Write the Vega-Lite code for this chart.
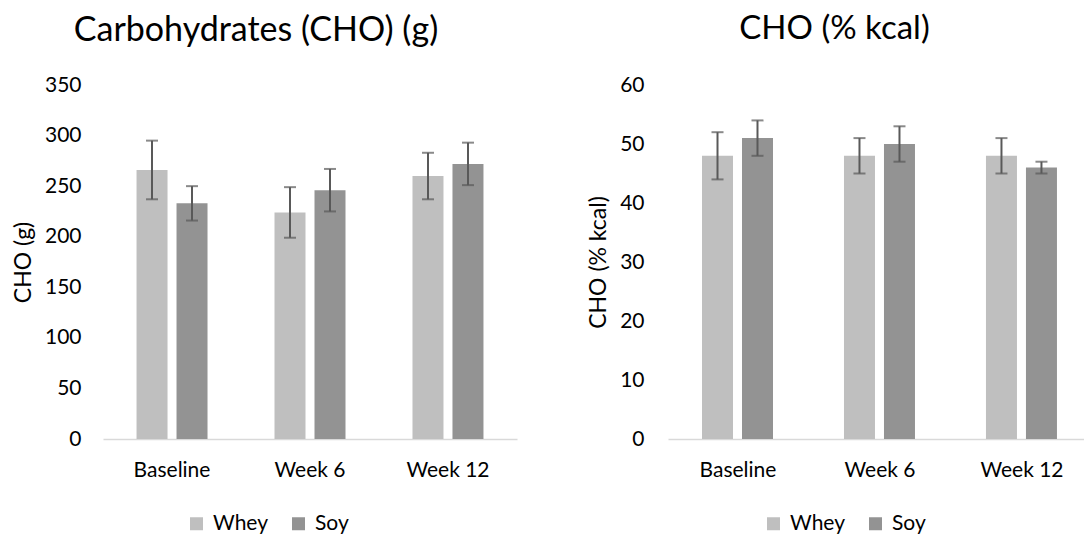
{
  "$schema": "https://vega.github.io/schema/vega-lite/v6.json",
  "background": "white",
  "padding": {"left": 12, "top": 13, "right": 0, "bottom": 0},
  "spacing": 70,
  "datasets": {
    "g": [
      {"time": "Baseline", "group": "Whey", "mean": 266, "lo": 237, "hi": 295},
      {"time": "Baseline", "group": "Soy", "mean": 233, "lo": 216, "hi": 250},
      {"time": "Week 6", "group": "Whey", "mean": 224, "lo": 199, "hi": 249},
      {"time": "Week 6", "group": "Soy", "mean": 246, "lo": 225, "hi": 267},
      {"time": "Week 12", "group": "Whey", "mean": 260, "lo": 237, "hi": 283},
      {"time": "Week 12", "group": "Soy", "mean": 272, "lo": 251, "hi": 293}
    ],
    "pct": [
      {"time": "Baseline", "group": "Whey", "mean": 48, "lo": 44, "hi": 52},
      {"time": "Baseline", "group": "Soy", "mean": 51, "lo": 48, "hi": 54},
      {"time": "Week 6", "group": "Whey", "mean": 48, "lo": 45, "hi": 51},
      {"time": "Week 6", "group": "Soy", "mean": 50, "lo": 47, "hi": 53},
      {"time": "Week 12", "group": "Whey", "mean": 48, "lo": 45, "hi": 51},
      {"time": "Week 12", "group": "Soy", "mean": 46, "lo": 45, "hi": 47}
    ]
  },
  "hconcat": [
    {
      "width": 414,
      "height": 354,
      "title": {"text": "Carbohydrates (CHO) (g)", "fontSize": 34, "font": "Lato", "fontWeight": "normal", "color": "#000000", "anchor": "middle", "frame": "group", "dx": -54, "offset": 26},
      "data": {"name": "g"},
      "encoding": {
        "x": {"field": "time", "type": "nominal", "sort": ["Baseline", "Week 6", "Week 12"],
          "scale": {"paddingInner": 0.4855, "paddingOuter": 0.243},
          "axis": {"title": null, "labelAngle": 0, "domain": true, "domainColor": "#D9D9D9", "domainWidth": 1.5, "ticks": false, "tickSize": 0, "labelPadding": 20, "labelFont": "Lato", "labelFontSize": 21, "labelColor": "#000000", "grid": false}},
        "xOffset": {"field": "group", "type": "nominal", "sort": ["Whey", "Soy"], "scale": {"paddingInner": 0.225, "paddingOuter": 0}}
      },
      "layer": [
        {
          "mark": {"type": "bar"},
          "encoding": {
            "y": {"field": "mean", "type": "quantitative", "scale": {"domain": [0, 350], "nice": false},
              "axis": {"title": "CHO (g)", "values": [0, 50, 100, 150, 200, 250, 300, 350], "grid": false, "domain": false, "ticks": false, "tickSize": 0, "labelPadding": 22, "labelFont": "Lato", "labelFontSize": 21, "labelColor": "#000000", "titleFont": "Lato", "titleFontSize": 23, "titleFontWeight": "normal", "titleColor": "#000000", "titlePadding": 9}},
            "color": {"field": "group", "type": "nominal", "sort": ["Whey", "Soy"],
              "scale": {"domain": ["Whey", "Soy"], "range": ["#BFBFBF", "#939393"]},
              "legend": {"orient": "none", "legendX": 83, "legendY": 428, "direction": "horizontal", "title": null, "symbolType": "square", "symbolSize": 169, "symbolStrokeWidth": 0, "labelFont": "Lato", "labelFontSize": 21, "labelColor": "#000000", "columnPadding": 20, "labelOffset": 6}}
          }
        },
        {
          "mark": {"type": "rule", "color": "#595959", "strokeWidth": 2},
          "encoding": {"y": {"field": "lo", "type": "quantitative"}, "y2": {"field": "hi"}}
        },
        {
          "mark": {"type": "tick", "color": "#595959", "thickness": 2, "size": 12},
          "encoding": {"y": {"field": "lo", "type": "quantitative"}}
        },
        {
          "mark": {"type": "tick", "color": "#595959", "thickness": 2, "size": 12},
          "encoding": {"y": {"field": "hi", "type": "quantitative"}}
        }
      ]
    },
    {
      "width": 417,
      "height": 354,
      "title": {"text": "CHO (% kcal)", "fontSize": 33, "font": "Lato", "fontWeight": "normal", "color": "#000000", "anchor": "middle", "frame": "group", "dx": -42, "dy": -4, "offset": 24},
      "data": {"name": "pct"},
      "encoding": {
        "x": {"field": "time", "type": "nominal", "sort": ["Baseline", "Week 6", "Week 12"],
          "scale": {"paddingInner": 0.493, "paddingOuter": 0.215, "align": 0.557},
          "axis": {"title": null, "labelAngle": 0, "domain": true, "domainColor": "#D9D9D9", "domainWidth": 1.5, "ticks": false, "tickSize": 0, "labelPadding": 20, "labelFont": "Lato", "labelFontSize": 21, "labelColor": "#000000", "grid": false}},
        "xOffset": {"field": "group", "type": "nominal", "sort": ["Whey", "Soy"], "scale": {"paddingInner": 0.225, "paddingOuter": 0}}
      },
      "layer": [
        {
          "mark": {"type": "bar"},
          "encoding": {
            "y": {"field": "mean", "type": "quantitative", "scale": {"domain": [0, 60], "nice": false},
              "axis": {"title": "CHO (% kcal)", "values": [0, 10, 20, 30, 40, 50, 60], "grid": false, "domain": false, "ticks": false, "tickSize": 0, "labelPadding": 24, "labelFont": "Lato", "labelFontSize": 21, "labelColor": "#000000", "titleFont": "Lato", "titleFontSize": 23, "titleFontWeight": "normal", "titleColor": "#000000", "titlePadding": 9}},
            "color": {"field": "group", "type": "nominal", "sort": ["Whey", "Soy"],
              "scale": {"domain": ["Whey", "Soy"], "range": ["#BFBFBF", "#939393"]},
              "legend": {"orient": "none", "legendX": 95, "legendY": 428, "direction": "horizontal", "title": null, "symbolType": "square", "symbolSize": 169, "symbolStrokeWidth": 0, "labelFont": "Lato", "labelFontSize": 21, "labelColor": "#000000", "columnPadding": 20, "labelOffset": 6}}
          }
        },
        {
          "mark": {"type": "rule", "color": "#595959", "strokeWidth": 2},
          "encoding": {"y": {"field": "lo", "type": "quantitative"}, "y2": {"field": "hi"}}
        },
        {
          "mark": {"type": "tick", "color": "#595959", "thickness": 2, "size": 12},
          "encoding": {"y": {"field": "lo", "type": "quantitative"}}
        },
        {
          "mark": {"type": "tick", "color": "#595959", "thickness": 2, "size": 12},
          "encoding": {"y": {"field": "hi", "type": "quantitative"}}
        }
      ]
    }
  ],
  "resolve": {"scale": {"color": "independent"}, "legend": {"color": "independent"}},
  "config": {"view": {"stroke": null}}
}
